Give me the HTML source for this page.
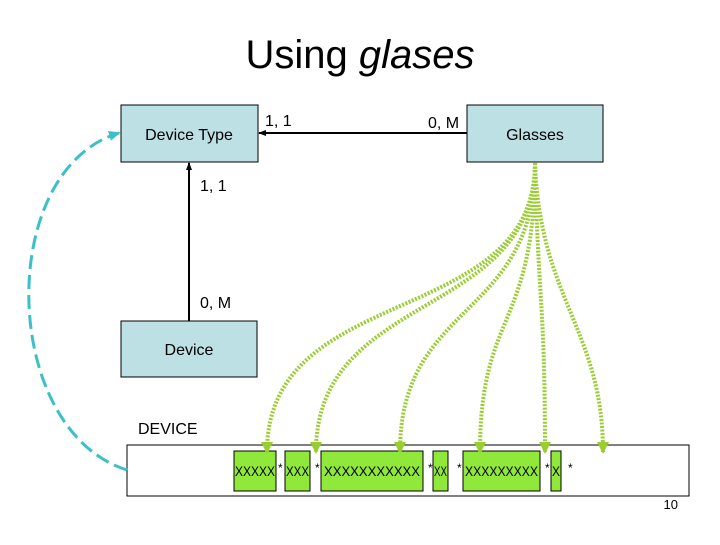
<!DOCTYPE html>
<html><head><style>
body{margin:0;width:720px;height:540px;background:#fff;overflow:hidden;font-family:"Liberation Sans",sans-serif}
</style></head><body>
<svg width="720" height="540" xmlns="http://www.w3.org/2000/svg" font-family="Liberation Sans, sans-serif">
<defs>
<marker id="ab" markerUnits="userSpaceOnUse" markerWidth="8" markerHeight="8" refX="7" refY="4" orient="auto"><path d="M0,1 L8,4 L0,7 z" fill="#000"/></marker>
<marker id="ag" markerUnits="userSpaceOnUse" markerWidth="12" markerHeight="12" refX="10" refY="6" orient="auto"><path d="M0,0 L12,6 L0,12 z" fill="#9acd32"/></marker>
<marker id="ac" markerUnits="userSpaceOnUse" markerWidth="12" markerHeight="12" refX="10" refY="6" orient="auto"><path d="M0,1 L12,6 L0,11 z" fill="#3cc0c8"/></marker>
</defs>
<text x="360" y="68" font-size="40" text-anchor="middle">Using <tspan font-style="italic">glases</tspan></text>
<rect x="121" y="105" width="137" height="57" fill="#bde0e4" stroke="#000"/>
<text x="189" y="140" font-size="16" text-anchor="middle">Device Type</text>
<rect x="467" y="105" width="136" height="57" fill="#bde0e4" stroke="#000"/>
<text x="535" y="140" font-size="16" text-anchor="middle">Glasses</text>
<rect x="121" y="321" width="136" height="56" fill="#bde0e4" stroke="#000"/>
<text x="189" y="355" font-size="16" text-anchor="middle">Device</text>
<line x1="467" y1="133" x2="259" y2="133" stroke="#000" stroke-width="2" marker-end="url(#ab)"/>
<line x1="189" y1="321" x2="189" y2="163" stroke="#000" stroke-width="2" marker-end="url(#ab)"/>
<text x="265" y="126" font-size="16">1, 1</text>
<text x="428" y="128" font-size="16">0, M</text>
<text x="200" y="191" font-size="16">1, 1</text>
<text x="200" y="308" font-size="16">0, M</text>
<text x="138" y="434" font-size="16">DEVICE</text>
<rect x="127" y="445" width="562" height="51" fill="#fff" stroke="#000"/>
<g fill="#8fe83a" stroke="#000">
<rect x="234" y="451" width="42" height="40"/>
<rect x="285" y="451" width="25" height="40"/>
<rect x="321" y="451" width="102" height="40"/>
<rect x="433" y="451" width="15" height="40"/>
<rect x="463" y="451" width="77" height="40"/>
<rect x="551" y="451" width="10" height="40"/>
</g>
<g font-size="14">
<text x="235" y="476" textLength="40" lengthAdjust="spacingAndGlyphs">XXXXX</text><text x="278" y="472" font-size="12">*</text>
<text x="286" y="476" textLength="23" lengthAdjust="spacingAndGlyphs">XXX</text><text x="315" y="472" font-size="12">*</text>
<text x="324" y="476" textLength="96" lengthAdjust="spacingAndGlyphs">XXXXXXXXXXX</text><text x="428" y="472" font-size="12">*</text>
<text x="434" y="476" textLength="13" lengthAdjust="spacingAndGlyphs">XX</text><text x="457" y="472" font-size="12">*</text>
<text x="465" y="476" textLength="73" lengthAdjust="spacingAndGlyphs">XXXXXXXXX</text><text x="545" y="472" font-size="12">*</text>
<text x="552" y="476" textLength="8" lengthAdjust="spacingAndGlyphs">X</text><text x="568" y="472" font-size="12">*</text>
</g>
<text x="678" y="509" font-size="13" text-anchor="end">10</text>
<g fill="none" stroke="#9acd32" stroke-width="4" stroke-dasharray="2,1.5" marker-end="url(#ag)">
<path d="M535,163 C535,330 267,280 267,452"/>
<path d="M535,163 C535,320 316,290 316,452"/>
<path d="M535,163 C535,320 400,300 400,452"/>
<path d="M535,163 C535,330 480,310 480,452"/>
<path d="M535,163 C538,300 545,300 545,452"/>
<path d="M535,163 C540,300 603,330 603,452"/>
</g>
<path d="M127,470 C0,430 -5,170 119,133" fill="none" stroke="#3cc0c8" stroke-width="3" stroke-dasharray="14,6" marker-end="url(#ac)"/>
</svg>
</body></html>
